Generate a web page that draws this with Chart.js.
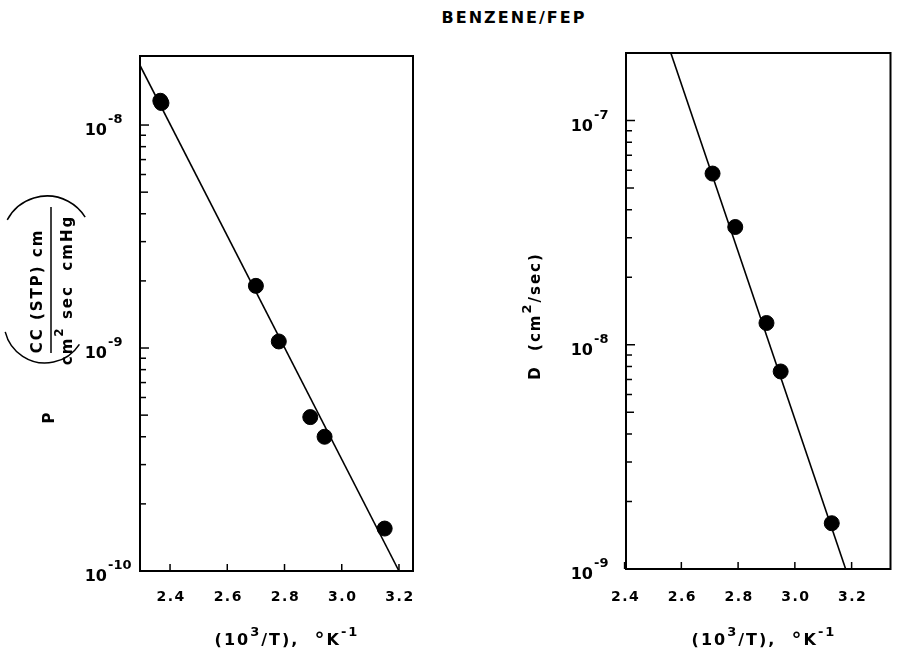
<!DOCTYPE html>
<html>
<head>
<meta charset="utf-8">
<script src="https://cdn.jsdelivr.net/npm/chart.js@4"></script>
<style>
html,body{margin:0;padding:0;background:#fff;}
#wrap{position:relative;width:899px;height:656px;overflow:hidden;background:#fff;}
#title{position:absolute;left:364px;top:8px;width:300px;text-align:center;
  font:bold 16px 'DejaVu Sans',sans-serif;letter-spacing:2px;color:#000;}
canvas{position:absolute;top:0;}
#cP{left:0;}
#cD{left:450px;}
</style>
</head>
<body>
<div id="wrap">
  <div id="title">BENZENE/FEP</div>
  <canvas id="cP" width="450" height="656"></canvas>
  <canvas id="cD" width="449" height="656"></canvas>
</div>
<script>
// ---- data ----
const P_X = [2.366, 2.370, 2.70, 2.78, 2.89, 2.94, 3.15];
const P_Y = [1.285e-8, 1.255e-8, 1.9e-9, 1.07e-9, 4.9e-10, 4.0e-10, 1.55e-10];
const P_FIT_X = [2.295, 3.20];
const P_FIT_Y = [1.85e-8, 1.0e-10];

const D_X = [2.71, 2.79, 2.90, 2.95, 3.13];
const D_Y = [5.8e-8, 3.35e-8, 1.25e-8, 7.6e-9, 1.6e-9];
const D_FIT_X = [2.563, 3.179];
const D_FIT_Y = [2.0e-7, 1.0e-9];

const X_TICKS = [2.4, 2.6, 2.8, 3.0, 3.2];
const X_LABELS = ['2.4', '2.6', '2.8', '3.0', '3.2'];
const P_DECADES = [1e-10, 1e-9, 1e-8];
const P_EXP = ['-10', '-9', '-8'];
const D_DECADES = [1e-9, 1e-8, 1e-7];
const D_EXP = ['-9', '-8', '-7'];
const MINOR = [2, 3, 4, 5, 6, 7, 8, 9];

const FONT = "'DejaVu Sans', sans-serif";

function pts(xs, ys){ return xs.map((x,i)=>({x, y: ys[i]})); }

// text made of normal (0), superscript (1) and degree-sign (2) pieces
function drawParts(ctx, parts, x, y, align, base, sup, rise){
  const fontOf = s => s===2 ? base.replace(/\d+px/, '20px') : (s ? sup : base);
  const w = parts.map(([t,s])=>{ ctx.font = fontOf(s); return ctx.measureText(t).width; });
  const tot = w.reduce((a,b)=>a+b,0);
  let cx = align==='center' ? x - tot/2 : align==='right' ? x - tot : x;
  parts.forEach(([t,s],i)=>{
    ctx.font = fontOf(s);
    ctx.fillText(t, cx, s===1 ? y - rise : (s===2 ? y + 1 : y));
    cx += w[i];
  });
  return tot;
}

function rotParts(ctx, parts, cx, cy, base, sup, rise, spacing){
  ctx.save();
  ctx.translate(cx, cy);
  ctx.rotate(-Math.PI/2);
  ctx.letterSpacing = spacing || '0px';
  ctx.textBaseline = 'middle';
  drawParts(ctx, parts, 0, 0, 'center', base, sup, rise);
  ctx.restore();
}

// frame, inside ticks, tick labels, axis title
const frame = {
  id: 'frame',
  afterDatasetsDraw(chart, args, o){
    const {ctx, chartArea:a, scales:{x, y}} = chart;
    ctx.save();
    ctx.fillStyle = '#000';
    ctx.strokeStyle = '#000';
    // y ticks (log, inside)
    ctx.lineWidth = 1.5;
    o.decades.forEach(d=>{
      const yy = y.getPixelForValue(d);
      ctx.beginPath(); ctx.moveTo(a.left, yy); ctx.lineTo(a.left+9, yy); ctx.stroke();
      MINOR.forEach(m=>{
        const v = d*m;
        if(v >= y.max) return;
        const ym = y.getPixelForValue(v);
        if(ym < a.top + 4) return;
        ctx.beginPath(); ctx.moveTo(a.left, ym); ctx.lineTo(a.left+(m===5?8:6), ym); ctx.stroke();
      });
    });
    // x ticks (inside)
    X_TICKS.forEach(t=>{
      const xx = x.getPixelForValue(t);
      ctx.beginPath(); ctx.moveTo(xx, a.bottom); ctx.lineTo(xx, a.bottom-7); ctx.stroke();
    });
    // box
    ctx.lineWidth = 2;
    ctx.strokeRect(a.left, a.top, a.right-a.left, a.bottom-a.top);

    // x tick labels
    ctx.letterSpacing = '1.5px';
    ctx.font = 'bold 14px ' + FONT;
    ctx.textAlign = 'center';
    ctx.textBaseline = 'middle';
    X_TICKS.forEach((t,i)=>{
      ctx.fillText(X_LABELS[i], x.getPixelForValue(t)+1, 597);
    });
    ctx.textAlign = 'left';
    ctx.textBaseline = 'alphabetic';

    // y tick labels 10^n
    ctx.letterSpacing = '0px';
    o.decades.forEach((d,i)=>{
      const yy = y.getPixelForValue(d);
      const right = a.left - 33;
      ctx.font = 'bold 16px ' + FONT;
      ctx.fillText('10', right - ctx.measureText('10').width, yy + 10);
      ctx.font = 'bold 13px ' + FONT;
      ctx.fillText(o.exps[i], right + 1, yy - 2);
    });

    // x axis title
    ctx.letterSpacing = '2px';
    drawParts(ctx, [['(10',0],['3',1],['/T),  ',0],['°',2],['K',0],['-1',1]],
      o.titleX, 645, 'center', 'bold 16px '+FONT, 'bold 13px '+FONT, 9);
    ctx.restore();
  }
};

// y axis title of the left panel
const pLabel = {
  id: 'pLabel',
  afterDraw(chart){
    const ctx = chart.ctx;
    ctx.save();
    ctx.fillStyle = '#000';
    ctx.strokeStyle = '#000';
    rotParts(ctx, [['CC (STP) cm',0]], 38, 291, 'bold 15px '+FONT, 'bold 11px '+FONT, 7, '2px');
    rotParts(ctx, [['cm',0],['2',1],[' sec  cmHg',0]], 68, 290, 'bold 15px '+FONT, 'bold 12px '+FONT, 8, '2px');
    ctx.lineWidth = 1.5;
    ctx.beginPath(); ctx.moveTo(51, 207); ctx.lineTo(51, 353); ctx.stroke();
    ctx.beginPath(); ctx.arc(47, 241, 45, -152*Math.PI/180, -32*Math.PI/180); ctx.stroke();
    ctx.beginPath(); ctx.arc(45, 322, 41, 33*Math.PI/180, 166*Math.PI/180); ctx.stroke();
    rotParts(ctx, [['P',0]], 50, 418, 'bold 15px '+FONT, 'bold 11px '+FONT, 7, '0px');
    ctx.restore();
  }
};

const dLabel = {
  id: 'dLabel',
  afterDraw(chart){
    const ctx = chart.ctx;
    ctx.save();
    ctx.fillStyle = '#000';
    rotParts(ctx, [['D  (cm',0],['2',1],['/sec)',0]], 86, 316, 'bold 15px '+FONT, 'bold 13px '+FONT, 8, '2px');
    ctx.restore();
  }
};

function makeChart(id, scat, fitX, fitY, xr, yr, pad, opts, extra){
  return new Chart(document.getElementById(id), {
    type: 'scatter',
    data: {
      datasets: [
        { type:'line', data: pts(fitX, fitY), borderColor:'#000', borderWidth:1.6,
          pointRadius:0, fill:false, tension:0 },
        { data: scat, backgroundColor:'#000', borderColor:'#000', pointRadius:7.5,
          pointHoverRadius:7.5 }
      ]
    },
    options: {
      responsive: false,
      animation: false,
      events: [],
      layout: { padding: pad },
      plugins: { legend:{display:false}, tooltip:{enabled:false}, title:{display:false}, frame: opts },
      scales: {
        x: { type:'linear', display:false, min:xr[0], max:xr[1] },
        y: { type:'logarithmic', display:false, min:yr[0], max:yr[1] }
      }
    },
    plugins: [frame, extra]
  });
}

makeChart('cP', pts(P_X, P_Y), P_FIT_X, P_FIT_Y, [2.295, 3.249], [1e-10, 2.04e-8],
  {left:140, right:37, top:56, bottom:85},
  {decades:P_DECADES, exps:P_EXP, titleX:287}, pLabel);

makeChart('cD', pts(D_X, D_Y), D_FIT_X, D_FIT_Y, [2.405, 3.337], [1e-9, 2.0e-7],
  {left:176, right:6, top:53, bottom:87},
  {decades:D_DECADES, exps:D_EXP, titleX:314}, dLabel);
</script>
</body>
</html>
